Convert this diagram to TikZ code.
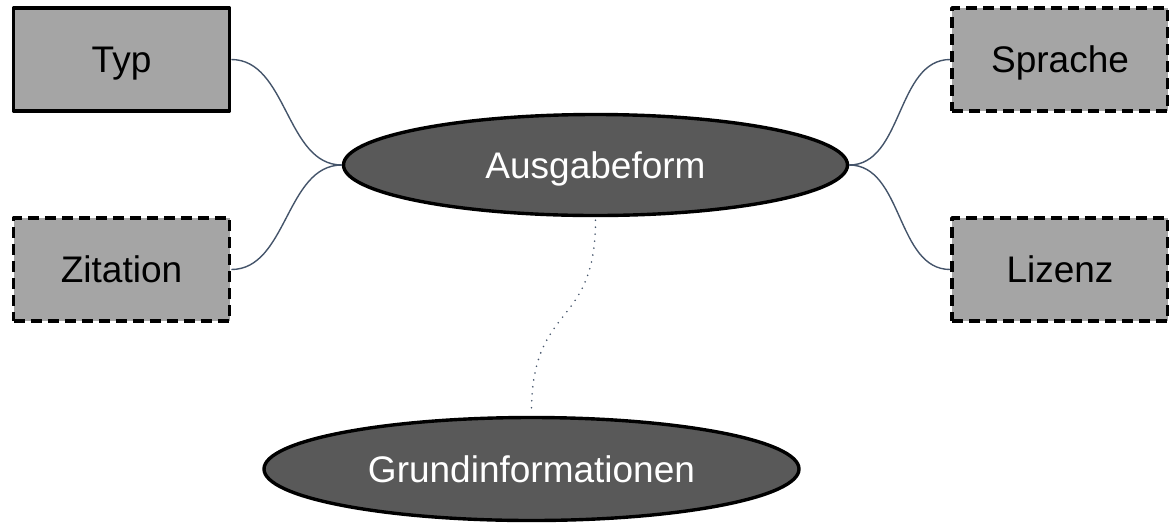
\documentclass[tikz,border=0pt]{standalone}
\usepackage{fontspec}
\setmainfont{Liberation Sans}
\usetikzlibrary{shapes.geometric}
\definecolor{boxgray}{HTML}{A5A5A5}
\definecolor{ellgray}{HTML}{595959}
\definecolor{conncol}{HTML}{44546A}
\tikzset{
  leaf/.style={draw=black, fill=boxgray, line width=3.6pt, line join=round, rectangle,
    minimum width=216pt, minimum height=103pt, inner sep=0pt,
    text height=26.5pt, text depth=0pt,
    font=\fontsize{37}{40}\selectfont},
  leafdash/.style={leaf, dash pattern=on 11pt off 6pt},
  hub/.style={draw=black, fill=ellgray, line width=3.4pt, ellipse, inner sep=0pt,
    text height=26.5pt, text depth=0pt,
    text=white, font=\fontsize{37}{40}\selectfont},
  conn/.style={draw=conncol, line width=1.4pt},
  dotconn/.style={draw=conncol, line width=1.8pt, line cap=round, dash pattern=on 0pt off 7pt}
}
\begin{document}
\begin{tikzpicture}[x=1pt,y=-1pt]
\useasboundingbox (0,0) rectangle (1169,523);
\node[leaf] (typ) at (121.5,59.5) {Typ};
\node[leafdash] (zit) at (121.5,269.5) {Zitation};
\node[leafdash] (spr) at (1060,59.5) {Sprache};
\node[leafdash] (liz) at (1060,269.5) {Lizenz};
\node[hub, minimum width=504pt, minimum height=101pt] (ausg) at (595.5,165) {Ausgabeform};
\node[hub, minimum width=535pt, minimum height=103pt] (grund) at (531.5,469) {Grundinformationen};
\draw[conn] (typ.east) .. controls +(56,0) and +(-56,0) .. (ausg.west);
\draw[conn] (zit.east) .. controls +(56,0) and +(-56,0) .. (ausg.west);
\draw[conn] (spr.west) .. controls +(-54,0) and +(54,0) .. (ausg.east);
\draw[conn] (liz.west) .. controls +(-54,0) and +(54,0) .. (ausg.east);
\draw[dotconn] ([yshift=-3pt]ausg.south) .. controls +(0,110) and +(0,-110) .. ([yshift=4pt]grund.north);
\end{tikzpicture}
\end{document}
